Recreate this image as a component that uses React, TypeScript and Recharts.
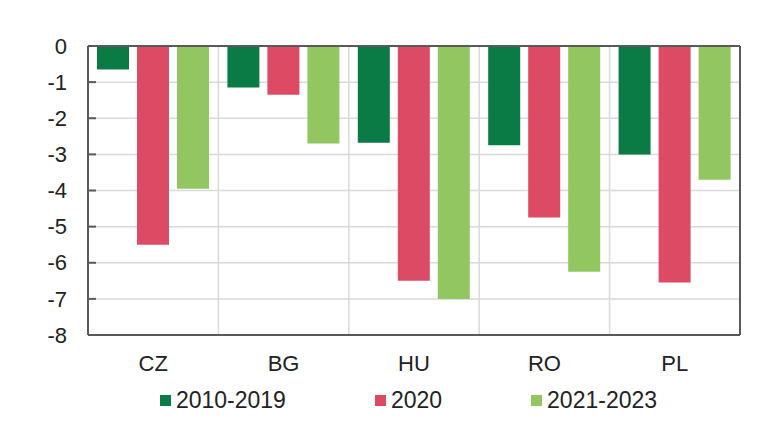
import { BarChart, Bar, XAxis, YAxis, CartesianGrid, Legend } from 'recharts';

// Values
const countries = ['CZ', 'BG', 'HU', 'RO', 'PL'];
const period2010to2019 = [-0.65, -1.15, -2.68, -2.75, -3.0];
const period2020 = [-5.5, -1.35, -6.5, -4.75, -6.55];
const period2021to2023 = [-3.95, -2.7, -7.0, -6.25, -3.7];
const yTicks = [0, -1, -2, -3, -4, -5, -6, -7, -8];
const seriesNames = ['2010-2019', '2020', '2021-2023'];

const chartData = countries.map((c, i) => ({
  country: c,
  a: period2010to2019[i],
  b: period2020[i],
  c: period2021to2023[i],
}));

const COLORS = ['#0b7b45', '#dc4a63', '#92c660'];
const AXIS = '#595959';
const GRID = '#d9d9d9';
const TEXT = '#222222';
const FONT = '"Liberation Sans", Arial, sans-serif';

const W = 769;
const H = 439;

function YTick(props: any) {
  const { x, y, payload } = props;
  const showMark = payload.value !== 0 && payload.value !== -8;
  return (
    <g>
      {showMark && (
        <line x1={x + 21} x2={x + 29} y1={y} y2={y} stroke={AXIS} strokeWidth={2} />
      )}
      <text x={x} y={y} dy="0.35em" textAnchor="end" fill={TEXT} fontSize={22} fontFamily={FONT}>
        {payload.value}
      </text>
    </g>
  );
}

function LegendContent() {
  return (
    <div
      style={{
        display: 'flex',
        justifyContent: 'center',
        gap: 89,
        paddingLeft: 48,
        fontFamily: FONT,
        fontSize: 23,
        lineHeight: '26px',
        color: TEXT,
      }}
    >
      {seriesNames.map((name, i) => (
        <div key={name} style={{ display: 'flex', alignItems: 'center' }}>
          <span style={{ width: 11, height: 11, background: COLORS[i], marginRight: 5, display: 'inline-block' }} />
          <span>{name}</span>
        </div>
      ))}
    </div>
  );
}

export default function App() {
  return (
    <div style={{ position: 'absolute', left: 0, top: 0, width: W, height: H, background: '#fff' }}>
      <BarChart
        width={W}
        height={H}
        data={chartData}
        margin={{ top: 46, right: 29, bottom: 64, left: 0 }}
        barCategoryGap={9}
        barGap={8}
      >
        <CartesianGrid
          stroke={GRID}
          strokeWidth={1.5}
          verticalCoordinatesGenerator={({ offset }: any) =>
            [1, 2, 3, 4].map((i) => offset.left + (i * offset.width) / countries.length)
          }
        />
        <XAxis
          dataKey="country"
          height={40}
          tickLine={false}
          tickMargin={14}
          axisLine={{ stroke: AXIS, strokeWidth: 2 }}
          tick={{ fill: TEXT, fontSize: 22, fontFamily: FONT }}
        />
        <XAxis
          xAxisId="top"
          orientation="top"
          type="number"
          domain={[0, countries.length]}
          ticks={[1, 2, 3, 4]}
          mirror
          tick={false}
          tickSize={6}
          tickLine={{ stroke: AXIS, strokeWidth: 2 }}
          axisLine={{ stroke: AXIS, strokeWidth: 2 }}
        />
        <YAxis
          type="number"
          domain={[-8, 0]}
          ticks={yTicks}
          width={88}
          tickLine={false}
          tickMargin={15}
          interval={0}
          axisLine={{ stroke: AXIS, strokeWidth: 2 }}
          tick={<YTick />}
        />
        <YAxis
          yAxisId="right"
          orientation="right"
          type="number"
          domain={[-8, 0]}
          mirror
          tick={false}
          tickLine={false}
          axisLine={{ stroke: AXIS, strokeWidth: 2 }}
        />
        <Legend
          verticalAlign="middle"
          content={<LegendContent />}
          wrapperStyle={{ left: 0, top: 387, width: W }}
        />
        <Bar dataKey="a" name={seriesNames[0]} fill={COLORS[0]} isAnimationActive={false} />
        <Bar dataKey="b" name={seriesNames[1]} fill={COLORS[1]} isAnimationActive={false} />
        <Bar dataKey="c" name={seriesNames[2]} fill={COLORS[2]} isAnimationActive={false} />
      </BarChart>
    </div>
  );
}
